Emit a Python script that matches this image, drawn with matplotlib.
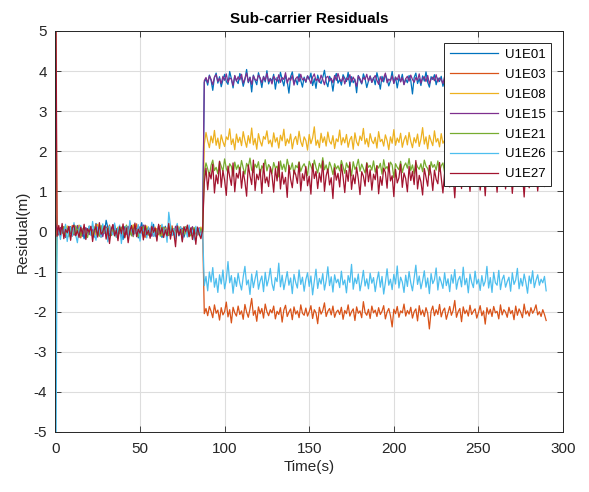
"""
Sub-carrier residuals per satellite over time (MATLAB-style line plot).
Residual values stored in cm, one sample per second.
"""

import numpy as np
import matplotlib.pyplot as plt

plt.rcParams["font.family"] = ["Liberation Sans", "DejaVu Sans"]
plt.rcParams["axes.unicode_minus"] = False

NAMES = ["U1E01", "U1E03", "U1E08", "U1E15", "U1E21", "U1E26", "U1E27"]
COLORS = ["#0072BD", "#D95319", "#EDB120", "#7E2F8E", "#77AC30", "#4DBEEE", "#A2142F"]

# residuals in cm, t = 0, 1, 2, ... s
U1E01 = [40,
    -8, 5, -12, 10, 2, -15, 8, -5, 12, -3, 0, -10, 6, 15, -7, 3, -18, 9, -2, 11,
    -6, 4, -14, 20, 7, -9, 1, 13, -4, 28, 10, -11, 5, -6, 16, -2, -13, 8, 3, -20,
    12, -1, 6, -8, 14, 0, -5, 9, -16, 4, 22, -3, 7, -10, 11, -7, 2, 18, -12, 5,
    -4, 9, -15, 3, 13, -6, 0, 10, -9, 6, -2, 17, -11, 4, 8, -14, 1, 12, -5, 7,
    -3, -10, 6, 2, -8, 9, -1,
    372, 381, 365, 390, 377, 352, 384, 395, 370, 386, 361, 378, 392, 374, 367, 399, 381, 358, 388, 376,
    369, 394, 383, 362, 379, 404, 371, 385, 348, 390, 377, 366, 396, 380, 359, 387, 373, 401, 368, 382,
    375, 392, 355, 384, 370, 397, 379, 363, 389, 374, 345, 386, 398, 371, 380, 366, 393, 377, 360, 385,
    372, 388, 379, 395, 364, 381, 357, 390, 376, 369, 384, 402, 373, 361, 387, 378, 350, 383, 394, 370,
    379, 365, 391, 382, 374, 397, 362, 386, 371, 380, 346, 389, 377, 368, 393, 381, 359, 375, 388, 372,
    384, 366, 396, 378, 355, 387, 373, 391, 380, 363, 376, 399, 370, 385, 358, 382, 374, 392, 367, 380,
    371, 389, 377, 343, 384, 395, 369, 381, 364, 388, 375, 398, 372, 360, 386, 379, 391, 366, 383, 374,
    387, 362, 378, 393, 370, 384, 353, 381, 396, 375, 368, 389, 380, 357, 385, 372, 394, 377, 364, 382,
    376, 390, 361, 383, 374, 398, 369, 386, 379, 352, 388, 373, 392, 366, 381, 377, 395, 370, 384, 363,
    379, 391, 372, 385, 358, 380, 394, 368, 383, 375, 389, 362, 378, 396, 371, 386, 374, 381, 367, 390,
    377, 384, 369]

U1E03 = [-60,
    3, -9, 7, -4, 12, -13, 1, 9, -6, 15, -2, -11, 5, 8, -16, 4, 10, -7, 2, 13,
    -5, -12, 6, 18, -3, 9, -14, 1, 11, -8, 3, 16, -10, 5, -1, 7, -17, 12, -4, 8,
    -9, 14, 2, -6, 10, -13, 4, 19, -7, 0, 11, -3, -15, 6, 9, -2, 13, -11, 3, 7,
    -8, 15, -5, 1, 10, -12, 5, -3, 14, -9, 2, 8, -6, 12, -14, 4, 9, -1, -10, 6,
    11, -4, 3, -7, 8, -2, 5,
    -205, -192, -210, -187, -199, -215, -183, -204, -196, -221, -190, -208, -200, -176, -213, -195, -228, -189, -203, -211,
    -186, -207, -198, -219, -182, -201, -214, -193, -167, -209, -197, -224, -188, -205, -192, -216, -181, -200, -210, -195,
    -203, -186, -218, -199, -207, -190, -226, -196, -184, -212, -201, -193, -220, -188, -206, -198, -215, -183, -204, -209,
    -191, -211, -200, -185, -217, -195, -203, -230, -189, -206, -197, -178, -212, -199, -192, -208, -186, -214, -201, -196,
    -207, -189, -219, -197, -205, -183, -211, -200, -193, -222, -188, -204, -198, -215, -175, -202, -209, -194, -217, -186,
    -203, -196, -212, -190, -207, -199, -185, -218, -201, -192, -210, -238, -194, -205, -187, -214, -198, -203, -181, -211,
    -197, -206, -189, -216, -200, -193, -223, -185, -208, -196, -212, -190, -204, -243, -199, -186, -210, -195, -207, -182,
    -213, -198, -191, -219, -203, -187, -209, -197, -172, -214, -200, -192, -225, -188, -205, -196, -211, -184, -207, -199,
    -193, -216, -202, -185, -210, -198, -231, -190, -206, -194, -212, -187, -203, -199, -218, -183, -208, -195, -201, -214,
    -189, -205, -197, -220, -186, -209, -193, -202, -215, -181, -206, -198, -211, -190, -204, -196, -183, -208, -200, -212,
    -195, -207, -222]

U1E08 = [650,
    -6, 8, -2, 11, -9, 4, 14, -5, 7, -12, 2, 10, -4, 16, -8, 1, 9, -13, 6, 3,
    12, -7, 5, -10, 18, -1, 8, -6, 13, -3, -11, 7, 2, 15, -9, 4, 11, -5, 0, 9,
    -14, 6, 3, 12, -8, 17, -2, 5, -7, 10, 1, -12, 8, 14, -4, 6, -9, 3, 11, -6,
    2, 13, -10, 7, 0, 9, -5, 16, -3, 4, -11, 8, 12, -7, 1, 10, -4, 6, -13, 5,
    9, -2, 7, -8, 3, 11, -5,
    218, 247, 226, 209, 238, 221, 252, 215, 233, 207, 241, 224, 212, 236, 229, 256, 217, 231, 204, 243,
    222, 235, 214, 249, 227, 210, 239, 220, 258, 216, 232, 205, 244, 225, 213, 237, 230, 251, 219, 228,
    211, 246, 223, 234, 208, 240, 226, 255, 214, 231, 220, 243, 206, 229, 237, 217, 250, 224, 212, 236,
    227, 203, 242, 219, 233, 261, 215, 228, 209, 245, 222, 236, 213, 248, 225, 218, 239, 207, 231, 224,
    253, 216, 234, 221, 242, 210, 229, 237, 205, 246, 223, 214, 238, 227, 257, 218, 232, 211, 244, 226,
    219, 235, 208, 249, 224, 230, 213, 241, 227, 204, 236, 220, 254, 215, 233, 222, 245, 210, 228, 239,
    216, 247, 225, 209, 234, 221, 243, 212, 230, 259, 218, 236, 206, 240, 226, 214, 251, 223, 232, 211,
    244, 220, 228, 205, 238, 227, 248, 215, 233, 219, 242, 210, 229, 236, 260, 217, 225, 208, 241, 224,
    213, 237, 229, 252, 218, 234, 207, 245, 222, 216, 239, 226, 211, 248, 230, 220, 243, 214, 235, 223,
    209, 240, 227, 255, 217, 231, 212, 246, 224, 236, 219, 205, 242, 228, 214, 250, 221, 233, 210, 238,
    225, 244, 218]

U1E15 = [20,
    4, -7, 10, -3, 6, -11, 2, 13, -5, 8, -9, 1, 15, -4, 7, -12, 5, 9, -2, -8,
    11, 3, -6, 14, -10, 0, 8, -13, 6, 12, -3, 4, -9, 17, -1, 7, -5, 10, -14, 2,
    9, -7, 13, -2, 5, -11, 8, 1, -6, 12, -4, 16, -9, 3, 7, -1, -12, 10, 4, -5,
    14, -8, 2, 9, -3, 6, -10, 11, 0, -7, 13, 5, -4, 8, -11, 2, 10, -6, 7, -2,
    12, -9, 4, 0, 9, -3, 6,
    376, 384, 371, 388, 379, 366, 385, 391, 374, 382, 369, 387, 377, 393, 372, 383, 380, 364, 389, 375,
    386, 378, 392, 370, 381, 395, 373, 384, 367, 388, 379, 376, 390, 383, 371, 386, 377, 394, 374, 381,
    368, 387, 380, 375, 391, 372, 384, 379, 396, 370, 383, 377, 389, 365, 381, 386, 374, 392, 378, 382,
    373, 388, 380, 369, 385, 393, 376, 381, 372, 390, 379, 366, 384, 387, 375, 382, 371, 389, 377, 394,
    380, 374, 386, 368, 383, 378, 391, 373, 385, 376, 362, 388, 381, 370, 384, 379, 392, 375, 387, 372,
    382, 389, 377, 367, 386, 374, 383, 395, 371, 380, 376, 388, 369, 385, 378, 391, 373, 384, 366, 381,
    387, 375, 390, 379, 372, 384, 377, 393, 370, 382, 386, 374, 389, 368, 380, 385, 376, 391, 373, 383,
    378, 369, 387, 381, 375, 392, 372, 384, 379, 366, 388, 383, 374, 390, 377, 371, 386, 380, 394, 375,
    382, 370, 385, 377, 389, 373, 381, 367, 386, 379, 393, 374, 384, 376, 371, 388, 380, 375, 390, 383,
    372, 387, 378, 369, 384, 391, 376, 382, 374, 388, 365, 380, 386, 373, 392, 379, 384, 370, 389, 377,
    381, 375, 386]

U1E21 = [-200,
    -10, 6, 1, -4, 12, -8, 5, -13, 9, 2, -6, 14, -2, 7, -11, 4, 10, -5, -15, 8,
    3, -9, 11, -1, 6, -12, 15, -3, 0, 9, -7, 13, -10, 5, 2, -14, 8, -4, 11, -6,
    1, 16, -8, 4, -11, 7, 10, -2, -13, 6, 3, 12, -5, 9, -9, 0, 14, -7, 5, -3,
    8, -12, 2, 11, -6, 4, -10, 13, -1, 7, -14, 5, 9, -4, 2, -8, 12, -3, 6, -11,
    1, 10, -6, 3, -9, 7, -2,
    148, 171, 156, 139, 165, 178, 152, 160, 144, 175, 163, 150, 181, 157, 146, 169, 162, 138, 173, 155,
    166, 149, 177, 158, 143, 170, 161, 183, 153, 147, 168, 159, 174, 141, 164, 156, 179, 151, 167, 160,
    145, 172, 158, 163, 136, 176, 154, 168, 149, 180, 161, 155, 171, 143, 165, 159, 174, 150, 162, 169,
    157, 140, 175, 163, 152, 178, 160, 146, 170, 158, 184, 154, 166, 148, 173, 161, 142, 169, 156, 164,
    151, 177, 162, 145, 171, 159, 167, 139, 174, 155, 163, 180, 150, 168, 157, 146, 172, 160, 165, 153,
    176, 148, 164, 158, 170, 143, 179, 156, 162, 151, 173, 166, 134, 169, 160, 154, 175, 147, 163, 171,
    158, 182, 152, 166, 144, 172, 161, 155, 169, 149, 178, 163, 157, 141, 174, 160, 167, 153, 176, 150,
    164, 171, 146, 162, 180, 155, 168, 159, 143, 173, 157, 165, 150, 177, 161, 148, 170, 163, 154, 185,
    160, 145, 172, 158, 166, 151, 175, 162, 140, 169, 156, 178, 153, 164, 147, 171, 159, 167, 152, 174,
    163, 149, 176, 157, 168, 142, 170, 161, 155, 179, 150, 165, 158, 173, 146, 167, 160, 154, 171, 162,
    156, 168, 151]

U1E26 = [-900,
    -15, 8, -20, 12, -5, 18, -25, 3, 10, -12, 22, -8, -28, 6, 15, -3, 9, -18, 2, 14,
    -10, 25, -6, -22, 11, 4, -15, 19, -2, 7, -26, 13, 0, -9, 21, -14, 5, 16, -30, 8,
    -4, 12, -19, 27, 3, -11, 9, -7, 17, -24, 6, 1, 14, -16, 10, -5, 23, -12, 4, -20,
    11, -2, 18, -8, 7, -27, 48, 15, -10, 6, -18, 20, -4, 12, -23, 2, 9, -14, 16, -6,
    3, -21, 13, -9, 7, -15, 5,
    -135, -112, -148, -101, -126, -90, -139, -117, -152, -108, -131, -96, -143, -120, -75, -128, -110, -154, -115, -137,
    -104, -129, -146, -113, -87, -133, -121, -157, -106, -140, -118, -98, -144, -124, -111, -150, -102, -136, -119, -92,
    -130, -147, -115, -125, -79, -138, -109, -145, -122, -100, -134, -116, -155, -107, -127, -141, -96, -132, -114, -149,
    -120, -103, -137, -111, -158, -124, -94, -142, -117, -131, -105, -146, -123, -88, -135, -113, -151, -108, -128, -119,
    -140, -99, -133, -121, -153, -110, -127, -82, -144, -116, -130, -106, -148, -125, -97, -136, -118, -143, -104, -129,
    -115, -150, -122, -101, -139, -112, -156, -127, -93, -134, -119, -145, -107, -131, -86, -141, -114, -126, -152, -109,
    -137, -100, -128, -148, -117, -84, -132, -111, -143, -123, -98, -139, -116, -155, -105, -130, -120, -91, -146, -113,
    -126, -142, -103, -135, -118, -150, -108, -129, -95, -144, -121, -112, -138, -89, -133, -117, -153, -106, -127, -140,
    -99, -131, -119, -147, -110, -136, -124, -87, -141, -115, -152, -102, -128, -134, -97, -145, -120, -109, -139, -125,
    -114, -149, -103, -132, -121, -92, -143, -117, -136, -106, -127, -154, -111, -130, -98, -140, -122, -108, -134, -119,
    -128, -112, -148]

U1E27 = [900,
    -12, 15, -8, 20, -18, 5, -3, 12, -22, 9, 16, -10, 2, -15, 11, -6, 18, -20, 7, -2,
    13, -25, 4, 10, -14, 22, -7, -1, 14, -19, 8, -30, 6, 17, -11, 3, -23, 12, -5, 19,
    -16, 9, -28, 1, 15, -9, 21, -13, 6, -4, 11, -21, 16, -8, 3, -17, 13, -2, 8, -24,
    18, -6, 10, -15, 4, -11, 20, -19, 7, -3, -38, 14, -9, 5, -26, 12, -1, 16, -13, 9,
    -20, 6, -32, 11, -7, -18, 3,
    122, 158, 104, 147, 131, 168, 96, 141, 119, 175, 110, 152, 128, 90, 163, 137, 115, 171, 99, 145,
    133, 160, 108, 150, 124, 88, 166, 139, 117, 178, 102, 143, 129, 155, 95, 170, 121, 136, 112, 161,
    140, 98, 157, 126, 174, 106, 148, 118, 135, 85, 165, 130, 109, 153, 142, 120, 172, 101, 144, 127,
    162, 114, 138, 93, 169, 132, 150, 107, 146, 123, 176, 100, 139, 156, 116, 134, 82, 159, 128, 145,
    111, 167, 136, 97, 152, 125, 173, 105, 141, 119, 160, 131, 92, 149, 138, 113, 170, 124, 154, 103,
    143, 129, 164, 94, 137, 115, 158, 147, 108, 171, 126, 139, 87, 155, 121, 134, 168, 110, 146, 132,
    99, 162, 127, 150, 117, 177, 106, 140, 124, 91, 157, 135, 113, 165, 142, 102, 153, 130, 119, 172,
    135, 96, 148, 126, 163, 111, 144, 138, 84, 159, 122, 151, 107, 169, 131, 116, 145, 100, 156, 128,
    141, 118, 174, 103, 137, 149, 89, 161, 125, 133, 112, 166, 144, 98, 152, 129, 120, 170, 106, 139,
    127, 155, 95, 147, 134, 114, 168, 121, 143, 86, 158, 130, 109, 164, 138, 117, 150, 101, 145, 124,
    136, 112, 142]

SERIES = [U1E01, U1E03, U1E08, U1E15, U1E21, U1E26, U1E27]

EDGE = "#262626"


def main():
    fig = plt.figure(figsize=(5.89, 4.92), dpi=100)
    ax = fig.add_axes([0.094, 0.122, 0.862, 0.815])

    for name, vals, col in zip(NAMES, SERIES, COLORS):
        y = np.asarray(vals, dtype=float) / 100.0
        t = np.arange(len(y))
        ax.plot(t, y, color=col, linewidth=0.9, label=name)

    ax.set_xlim(0, 300)
    ax.set_ylim(-5, 5)
    ax.set_xticks(range(0, 301, 50))
    ax.set_yticks(range(-5, 6))
    ax.grid(True, color="#dddddd", linewidth=0.8)
    ax.set_axisbelow(True)
    ax.tick_params(direction="in", top=True, right=True, colors=EDGE,
                   labelsize=11, length=4, width=0.6)
    ax.tick_params(axis="x", pad=7)
    ax.tick_params(axis="y", pad=6)
    for sp in ax.spines.values():
        sp.set_color(EDGE)
        sp.set_linewidth(0.7)

    ax.set_xlabel("Time(s)", fontsize=11, color=EDGE, labelpad=3)
    ax.set_ylabel("Residual(m)", fontsize=11, color=EDGE, labelpad=3)
    ax.set_title("Sub-carrier Residuals", fontsize=11, fontweight="bold",
                 color="black", pad=6)

    leg = ax.legend(loc="upper right", fontsize=9.5, handlelength=3.6,
                    borderaxespad=0.9, labelspacing=0.58, handletextpad=0.5,
                    fancybox=False, framealpha=1.0, edgecolor=EDGE,
                    borderpad=0.45)
    leg.get_frame().set_linewidth(0.7)

    fig.savefig("out.png", dpi=100)
    plt.close(fig)


if __name__ == "__main__":
    main()
